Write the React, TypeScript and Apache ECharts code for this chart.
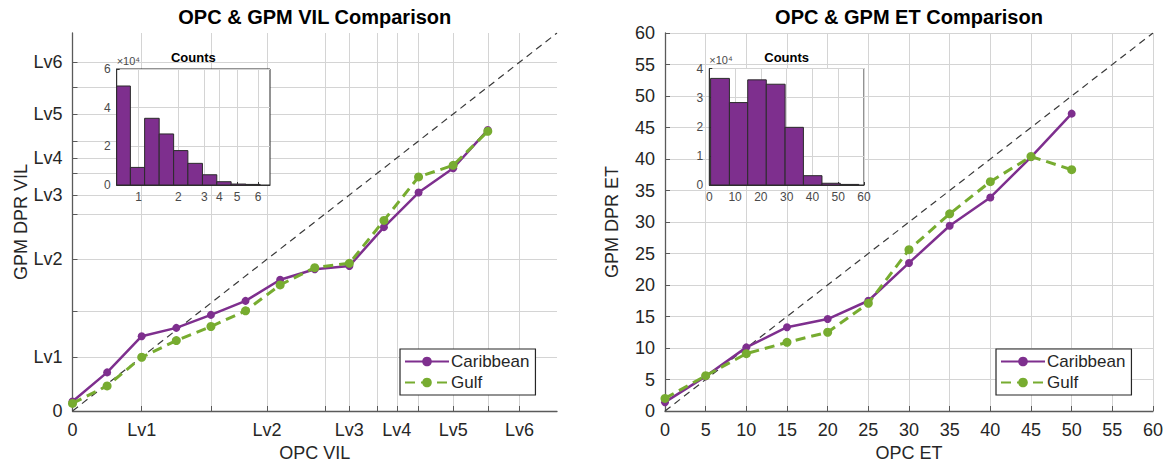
import React, { useEffect, useRef } from 'react';
import * as echarts from 'echarts';

// ---------- data ----------
const vilX = [0, 10, 20, 30, 40, 50, 60, 70, 80, 90, 100, 110, 120];
const caribbeanVIL = [3.5, 14.3, 27.7, 30.8, 35.6, 40.8, 48.6, 52.5, 53.7, 68.1, 80.9, 89.9, 104.1];
const gulfVIL = [2.8, 9.3, 19.9, 26.1, 31.3, 37.1, 46.7, 53.1, 54.7, 70.6, 86.7, 91.0, 103.6];
const vilLevelPos = [0, 20, 56.2, 80, 93.7, 110, 129.2];
const vilLevelLabels = ['0', 'Lv1', 'Lv2', 'Lv3', 'Lv4', 'Lv5', 'Lv6'];
const vilXMinorTicks = [40, 73, 88, 100, 120];
const vilYMinorTicks = [37, 73, 88, 100, 120];
const vilHistEdges = [0, 12.5, 25.5, 38.8, 52, 65, 78.3, 91.4, 104.5, 118, 131];
const vilHistCounts = [51200, 9100, 34500, 26400, 17800, 11200, 5300, 1700, 500, 300];
const vilHistTickLabels = ['1', '2', '3', '4', '5', '6'];

const etX = [0, 5, 10, 15, 20, 25, 30, 35, 40, 45, 50];
const caribbeanET = [1.4, 5.5, 10.1, 13.3, 14.6, 17.5, 23.5, 29.4, 33.9, 40.3, 47.2];
const gulfET = [2.0, 5.6, 9.1, 10.9, 12.5, 17.1, 25.6, 31.3, 36.4, 40.4, 38.3];
const etHistEdges = [0.5, 7.8, 14.9, 22.1, 29.4, 36.5, 43.7, 50.8, 58];
const etHistCounts = [36600, 28300, 36100, 34600, 19800, 3200, 600, 200];

const seriesNames = ['Caribbean', 'Gulf'];
const titles = ['OPC & GPM VIL Comparison', 'OPC & GPM ET Comparison'];

// ---------- styles ----------
const FONT = '"Liberation Sans", Arial, Helvetica, sans-serif';
const PURPLE = '#7E2F8E';
const GREEN = '#77AC30';
const AXIS = '#5a5a5a';
const TXT = '#262626';
const GRIDLINE = '#d4d4d4';

const G_L = { left: 72.5, top: 33, width: 484.5, height: 378 };
const G_R = { left: 665, top: 33, width: 488, height: 378 };
const I_L = { left: 116.7, top: 69, width: 153.3, height: 116 };
const I_R = { left: 709.3, top: 68.5, width: 154.7, height: 116.5 };

const xTicksVIL = [...vilLevelPos, ...vilXMinorTicks].sort((a, b) => a - b);
const yTicksVIL = [...vilLevelPos, ...vilYMinorTicks].sort((a, b) => a - b);

function levelLabel(v: number): string {
  let best = 0;
  let d = Infinity;
  vilLevelPos.forEach((p, i) => {
    if (Math.abs(p - v) < d) { d = Math.abs(p - v); best = i; }
  });
  return vilLevelLabels[best];
}
function histLabel(v: number): string {
  let best = 1;
  let d = Infinity;
  vilLevelPos.forEach((p, i) => {
    if (i > 0 && Math.abs(p - v) < d) { d = Math.abs(p - v); best = i; }
  });
  return vilHistTickLabels[best - 1];
}

const histRender = (params: any, api: any) => {
  const p0 = api.coord([api.value(0), api.value(2)]);
  const p1 = api.coord([api.value(1), 0]);
  return {
    type: 'rect',
    shape: { x: p0[0], y: p0[1], width: p1[0] - p0[0], height: p1[1] - p0[1] },
    style: { fill: PURPLE, stroke: '#2b2b2b', lineWidth: 1 },
  };
};

function mainAxisCommon(name: string, nameGap: number) {
  return {
    type: 'value',
    name,
    nameLocation: 'middle',
    nameGap,
    nameTextStyle: { fontSize: 18, color: TXT, fontFamily: FONT },
    axisLine: { show: true, onZero: false, lineStyle: { color: AXIS, width: 1.3 } },
    splitLine: { show: true, lineStyle: { color: GRIDLINE, width: 1 } },
    z: 1,
  };
}

function insetAxisCommon() {
  return {
    type: 'value',
    axisLine: { show: true, onZero: false, lineStyle: { color: '#333', width: 1 } },
    splitLine: { show: true, lineStyle: { color: GRIDLINE, width: 1 } },
    z: 6,
  };
}

function lineSeries(name: string, xs: number[], ys: number[], axisIdx: number, color: string, dashed: boolean) {
  return {
    type: 'line',
    name,
    xAxisIndex: axisIdx,
    yAxisIndex: axisIdx,
    data: xs.map((x, i) => [x, ys[i]]),
    symbol: 'circle',
    symbolSize: dashed ? 9 : 8,
    showSymbol: true,
    lineStyle: { color, width: dashed ? 3 : 2.5, type: dashed ? [10, 6] : 'solid' },
    itemStyle: { color },
    z: dashed ? 4 : 3,
    silent: true,
  };
}

function diagSeries(axisIdx: number, max: number, gridX?: number[], gridY?: number[]) {
  const s: any = {
    type: 'line',
    xAxisIndex: axisIdx,
    yAxisIndex: axisIdx,
    data: [[0, 0], [max, max]],
    symbol: 'none',
    lineStyle: { color: '#3a3a3a', width: 1.2, type: [7, 5] },
    z: 2,
    silent: true,
  };
  if (gridX && gridY) {
    s.markLine = {
      silent: true,
      symbol: 'none',
      label: { show: false },
      lineStyle: { color: GRIDLINE, width: 1, type: 'solid' },
      data: [
        ...gridX.filter((v) => v > 0).map((v) => ({ xAxis: v })),
        ...gridY.filter((v) => v > 0).map((v) => ({ yAxis: v })),
      ],
      z: 1,
    };
  }
  return s;
}

function buildOption() {
  const legendCommon = {
    orient: 'vertical',
    data: seriesNames,
    selectedMode: false,
    backgroundColor: '#fff',
    borderColor: '#262626',
    borderWidth: 1.2,
    padding: [4, 6, 4, 4],
    itemWidth: 44,
    itemHeight: 12,
    itemGap: 4,
    textStyle: { fontSize: 17, color: TXT, fontFamily: FONT, padding: [0, 0, 0, -3] },
  };
  return {
    animation: false,
    backgroundColor: '#fff',
    textStyle: { fontFamily: FONT },
    title: [
      { text: titles[0], left: G_L.left + G_L.width / 2, top: 7, textAlign: 'center', padding: 0,
        textStyle: { fontSize: 20, fontWeight: 'bold', color: '#000', fontFamily: FONT } },
      { text: titles[1], left: G_R.left + G_R.width / 2, top: 7, textAlign: 'center', padding: 0,
        textStyle: { fontSize: 20, fontWeight: 'bold', color: '#000', fontFamily: FONT } },
      { text: 'Counts', left: I_L.left + I_L.width / 2, top: 51, textAlign: 'center', padding: 0,
        textStyle: { fontSize: 13, fontWeight: 'bold', color: '#000', fontFamily: FONT } },
      { text: 'Counts', left: I_R.left + I_R.width / 2, top: 51, textAlign: 'center', padding: 0,
        textStyle: { fontSize: 13, fontWeight: 'bold', color: '#000', fontFamily: FONT } },
    ],
    legend: [
      { ...legendCommon, left: 400, top: 349 },
      { ...legendCommon, left: 996, top: 349 },
    ],
    grid: [
      { ...G_L, outerBoundsMode: 'none', containLabel: false, z: 0 },
      { ...I_L, outerBoundsMode: 'none', containLabel: false, show: true, backgroundColor: '#fff', borderColor: '#262626', borderWidth: 1, z: 5 },
      { ...G_R, outerBoundsMode: 'none', containLabel: false, z: 0 },
      { ...I_R, outerBoundsMode: 'none', containLabel: false, show: true, backgroundColor: '#fff', borderColor: '#262626', borderWidth: 1, z: 5 },
    ],
    xAxis: [
      {
        ...mainAxisCommon('OPC VIL', 32),
        gridIndex: 0, min: 0, max: 140,
        axisTick: { show: true, inside: true, length: 5, customValues: xTicksVIL, lineStyle: { color: AXIS } },
        axisLabel: { customValues: vilLevelPos, formatter: (v: number) => levelLabel(v), fontSize: 18, color: TXT, margin: 10, fontFamily: FONT },
      },
      {
        ...insetAxisCommon(),
        gridIndex: 1, min: 0, max: 140,
        axisTick: { show: true, inside: true, length: 3, customValues: vilLevelPos.slice(1), lineStyle: { color: '#333' } },
        axisLabel: { customValues: vilLevelPos.slice(1), formatter: (v: number) => histLabel(v), fontSize: 12, color: '#4a4a4a', margin: 6, fontFamily: FONT },
      },
      {
        ...mainAxisCommon('OPC ET', 32),
        gridIndex: 2, min: 0, max: 60, interval: 5,
        axisTick: { show: true, inside: true, length: 5, lineStyle: { color: AXIS } },
        axisLabel: { fontSize: 18, color: TXT, margin: 10, fontFamily: FONT },
      },
      {
        ...insetAxisCommon(),
        gridIndex: 3, min: 0, max: 60, interval: 10,
        axisTick: { show: true, inside: true, length: 3, lineStyle: { color: '#333' } },
        axisLabel: { fontSize: 12, color: '#4a4a4a', margin: 6, fontFamily: FONT },
      },
    ],
    yAxis: [
      {
        ...mainAxisCommon('GPM DPR VIL', 43),
        gridIndex: 0, min: 0, max: 140,
        axisTick: { show: true, inside: true, length: 5, customValues: yTicksVIL, lineStyle: { color: AXIS } },
        axisLabel: { customValues: vilLevelPos, formatter: (v: number) => levelLabel(v), fontSize: 18, color: TXT, margin: 10, fontFamily: FONT },
      },
      {
        ...insetAxisCommon(),
        gridIndex: 1, min: 0, max: 60000, interval: 20000,
        name: '×10⁴', nameLocation: 'end', nameGap: 3,
        nameTextStyle: { fontSize: 11, color: '#4a4a4a', align: 'left', verticalAlign: 'bottom', fontFamily: FONT },
        axisTick: { show: true, inside: true, length: 3, lineStyle: { color: '#333' } },
        axisLabel: { formatter: (v: number) => String(v / 10000), fontSize: 12, color: '#4a4a4a', margin: 6, fontFamily: FONT },
      },
      {
        ...mainAxisCommon('GPM DPR ET', 44),
        gridIndex: 2, min: 0, max: 60, interval: 5,
        axisTick: { show: true, inside: true, length: 5, lineStyle: { color: AXIS } },
        axisLabel: { fontSize: 18, color: TXT, margin: 10, fontFamily: FONT },
      },
      {
        ...insetAxisCommon(),
        gridIndex: 3, min: 0, max: 40000, interval: 10000,
        name: '×10⁴', nameLocation: 'end', nameGap: 3,
        nameTextStyle: { fontSize: 11, color: '#4a4a4a', align: 'left', verticalAlign: 'bottom', fontFamily: FONT },
        axisTick: { show: true, inside: true, length: 3, lineStyle: { color: '#333' } },
        axisLabel: { formatter: (v: number) => String(v / 10000), fontSize: 12, color: '#4a4a4a', margin: 6, fontFamily: FONT },
      },
    ],
    series: [
      diagSeries(0, 140, xTicksVIL, yTicksVIL),
      lineSeries(seriesNames[0], vilX, caribbeanVIL, 0, PURPLE, false),
      lineSeries(seriesNames[1], vilX, gulfVIL, 0, GREEN, true),
      {
        type: 'custom', xAxisIndex: 1, yAxisIndex: 1, z: 7, silent: true,
        renderItem: histRender,
        encode: { x: [0, 1], y: 2 },
        data: vilHistCounts.map((c, i) => [vilHistEdges[i], vilHistEdges[i + 1], c]),
      },
      diagSeries(2, 60),
      lineSeries(seriesNames[0], etX, caribbeanET, 2, PURPLE, false),
      lineSeries(seriesNames[1], etX, gulfET, 2, GREEN, true),
      {
        type: 'custom', xAxisIndex: 3, yAxisIndex: 3, z: 7, silent: true,
        renderItem: histRender,
        encode: { x: [0, 1], y: 2 },
        data: etHistCounts.map((c, i) => [etHistEdges[i], etHistEdges[i + 1], c]),
      },
    ],
  };
}

export default function App() {
  const ref = useRef<HTMLDivElement>(null);
  useEffect(() => {
    if (!ref.current) return;
    const chart = echarts.init(ref.current, undefined, { renderer: 'svg' });
    chart.setOption(buildOption() as any);
    return () => chart.dispose();
  }, []);
  return (
    <div
      ref={ref}
      style={{ position: 'fixed', left: 0, top: 0, width: 1166, height: 468, background: '#fff' }}
    />
  );
}
